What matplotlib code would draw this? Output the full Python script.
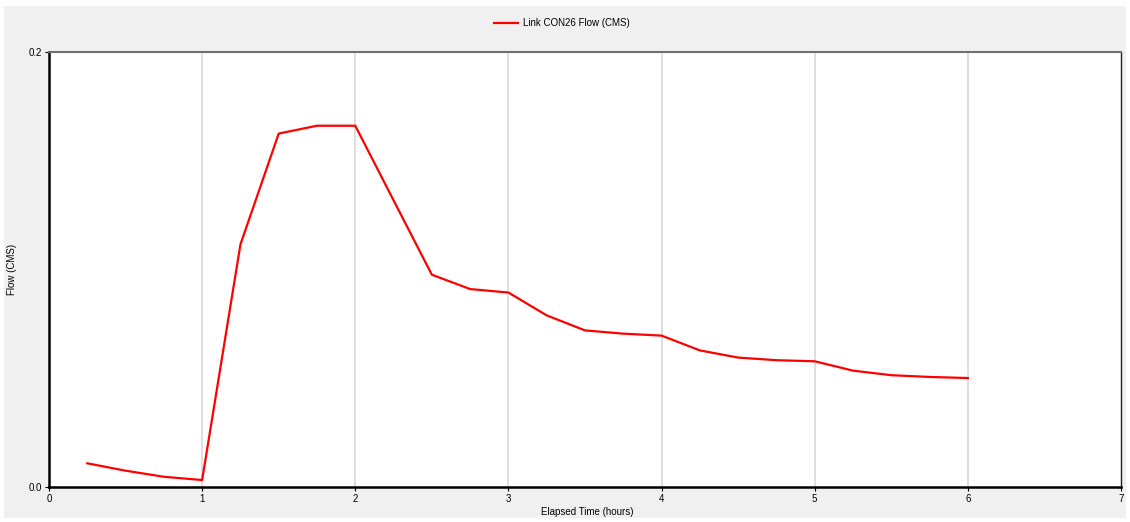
import matplotlib
matplotlib.use("Agg")
import matplotlib.pyplot as plt
from matplotlib.patches import Rectangle

# elapsed time (hours) and flow (CMS)
hours = [0.25, 0.5, 0.75, 1.0, 1.25, 1.5, 1.75, 2.0, 2.25, 2.5, 2.75, 3.0,
         3.25, 3.5, 3.75, 4.0, 4.25, 4.5, 4.75, 5.0, 5.25, 5.5, 5.75, 6.0]
flow = [0.0109, 0.0075, 0.0047, 0.0032, 0.1115, 0.1625, 0.1661, 0.1661,
        0.1318, 0.0976, 0.0910, 0.0894, 0.0789, 0.0720, 0.0705, 0.0696,
        0.0628, 0.0595, 0.0583, 0.0578, 0.0535, 0.0514, 0.0506, 0.0501]
series_name = "Link CON26 Flow (CMS)"
x_ticks = [0, 1, 2, 3, 4, 5, 6, 7]
y_ticks = [0.0, 0.2]

W, H = 1130, 522
fig = plt.figure(figsize=(W / 100, H / 100), dpi=100)
fig.patch.set_facecolor("white")
# grey panel behind everything, thin white border round it
fig.patches.append(Rectangle((4 / W, 4 / H), (W - 8) / W, (H - 10) / H,
                             transform=fig.transFigure, facecolor="#f0f0f0",
                             edgecolor="none", zorder=-10))

left, right, top, bottom = 49, 1121, 52, 487
ax = fig.add_axes([left / W, 1 - bottom / H, (right - left) / W, (bottom - top) / H])
ax.set_zorder(5)
ax.set_facecolor("white")

ax.plot(hours, flow, color="#ff0000", lw=1.6, label=series_name, zorder=3)

ax.set_xlim(0, 7)
ax.set_ylim(0, 0.2)
ax.set_xticks(x_ticks)
ax.set_yticks(y_ticks)
ax.set_yticklabels(["0.0", "0.2"])
for xv in x_ticks[1:-1]:
    ax.axvline(xv, color="#d9d9d9", lw=1.2, zorder=1)

font = "Liberation Sans"
ax.tick_params(labelsize=7, length=3, width=0.8, pad=2)
for lab in ax.get_xticklabels() + ax.get_yticklabels():
    lab.set_fontfamily(font)

ax.spines["left"].set_linewidth(1.8)
ax.spines["bottom"].set_linewidth(1.8)
ax.spines["left"].set_color("black")
ax.spines["bottom"].set_color("black")
ax.spines["top"].set_linewidth(1.5)
ax.spines["top"].set_color("#707070")
ax.spines["right"].set_linewidth(1.0)
ax.spines["right"].set_color("#202020")

fig.text(587 / W, 1 - 512 / H, "Elapsed Time (hours)", ha="center", va="center",
         fontsize=7, family=font)
fig.text(12 / W, 1 - 269 / H, "Flow (CMS)", ha="center", va="center",
         rotation=90, fontsize=7, family=font)

leg = fig.legend(loc="center", bbox_to_anchor=(562 / W, 1 - 23 / H), frameon=False,
                 prop={"family": font, "size": 7}, handlelength=2.5,
                 handletextpad=0.5)

fig.savefig("out.png", dpi=100, facecolor=fig.get_facecolor())
